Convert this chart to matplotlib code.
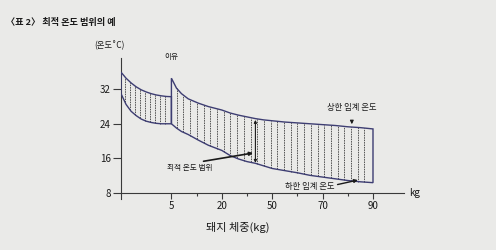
import numpy as np
import matplotlib
matplotlib.use("Agg")
import matplotlib.pyplot as plt
from matplotlib.ticker import FixedLocator, NullFormatter

plt.rcParams['font.family'] = ['Noto Sans CJK KR', 'DejaVu Sans']

# ---- data ----
title = "〈표 2〉 최적 온도 범위의 예"
y_label = "(온도˚C)"
x_label = "돼지 체중(kg)"
x_unit = "kg"
weaning_label = "이유"
upper_label = "상한 임계 온도"
lower_label = "하한 임계 온도"
range_label = "최적 온도 범위"

x_ticks = [5, 20, 50, 70, 90]
x_minor = [12.5, 35, 60, 80]
y_ticks = [8, 16, 24, 32]

# axis break points (kg) and their evenly spaced positions
kg_breaks = [0, 5, 20, 50, 70, 90, 110]
pos_breaks = [0, 1, 2, 3, 4, 5, 6]

# segment 1 : before weaning
seg1_kg = [0, 0.5, 1, 1.5, 2, 2.5, 3, 3.5, 4, 4.5, 5]
seg1_upper = [36.0, 34.6, 33.5, 32.6, 31.9, 31.4, 31.0, 30.7, 30.5, 30.35, 30.3]
seg1_lower = [31.0, 28.5, 26.9, 25.9, 25.1, 24.6, 24.3, 24.1, 24.0, 24.0, 24.0]

# segment 2 : after weaning
seg2_kg = [5, 6.5, 8, 10, 13, 16, 20, 25, 30, 35, 40, 45, 50, 55, 60, 65, 70, 75, 80, 85, 90]
seg2_upper = [34.6, 32.3, 31.0, 29.8, 28.8, 28.0, 27.2, 26.5, 26.0, 25.6, 25.2, 24.9,
              24.7, 24.4, 24.2, 24.0, 23.8, 23.6, 23.3, 23.1, 22.8]
seg2_lower = [24.0, 23.0, 22.2, 21.5, 20.2, 19.0, 17.8, 16.6, 15.8, 15.2, 14.8, 14.2,
              13.6, 13.1, 12.6, 12.0, 11.6, 11.2, 10.8, 10.5, 10.3]

# ---- style ----
bg = '#eaeae8'
curve_c = '#3d3d72'
hatch_c = '#555555'
text_c = '#1a1a1a'
axis_c = '#3a3a3a'


def fwd(kg):
    return np.interp(kg, kg_breaks, pos_breaks)


def inv(p):
    return np.interp(p, pos_breaks, kg_breaks)


fig = plt.figure(figsize=(4.96, 2.5), dpi=100, facecolor=bg)
ax = fig.add_axes([0.244, 0.204, 0.571, 0.564])
ax.set_facecolor(bg)
ax.set_xscale('function', functions=(fwd, inv))
ax.set_xlim(0, inv(5.62))
ax.set_ylim(6.5, 39.3)

for kg, up, lo, step in [(seg1_kg, seg1_upper, seg1_lower, 0.1),
                         (seg2_kg, seg2_upper, seg2_lower, 0.133)]:
    kg = np.asarray(kg, float)
    up = np.asarray(up, float)
    lo = np.asarray(lo, float)
    p0, p1 = fwd(kg[0]), fwd(kg[-1])
    ps = np.arange(p0 + step * 0.8, p1 - step * 0.3, step)
    xs = inv(ps)
    ax.vlines(xs, np.interp(xs, kg, lo), np.interp(xs, kg, up), colors=hatch_c,
              linestyles=(0, (1.6, 0.9)), linewidth=0.7, zorder=2)
    px = np.concatenate([kg, kg[::-1]])
    py = np.concatenate([up, lo[::-1]])
    ax.fill(px, py, facecolor='none', edgecolor=curve_c, linewidth=1.0, zorder=3)

# axes styling
for s in ['top', 'right']:
    ax.spines[s].set_visible(False)
ax.spines['bottom'].set_position(('data', 8))
for s in ['left', 'bottom']:
    ax.spines[s].set_color(axis_c)
    ax.spines[s].set_linewidth(0.8)

ax.xaxis.set_major_locator(FixedLocator(x_ticks))
ax.xaxis.set_minor_locator(FixedLocator(x_minor))
ax.xaxis.set_minor_formatter(NullFormatter())
ax.set_xticklabels([str(t) for t in x_ticks])
ax.yaxis.set_major_locator(FixedLocator(y_ticks))
ax.yaxis.set_minor_locator(FixedLocator([]))
ax.set_yticklabels([str(t) for t in y_ticks])
ax.tick_params(axis='x', which='major', direction='out', length=4, width=0.8,
               pad=2, labelsize=7, colors=axis_c, labelcolor=text_c)
ax.tick_params(axis='x', which='minor', direction='out', length=2.5, width=0.8,
               colors=axis_c)
ax.tick_params(axis='y', which='major', direction='out', length=5.5, width=0.8,
               pad=2, labelsize=7, colors=axis_c, labelcolor=text_c)

# texts
fig.text(0.012, 0.91, title, fontsize=6.6, fontweight='bold', color=text_c,
         ha='left', va='center')
ax.text(-0.04, 1.092, y_label, transform=ax.transAxes, fontsize=6, color=text_c,
        ha='center', va='center')
ax.text(0.413, -0.199, x_label, transform=ax.transAxes, fontsize=8, color=text_c,
        ha='center', va='center')
ax.text(1.017, 8, x_unit, transform=ax.get_yaxis_transform(), fontsize=7,
        color=text_c, ha='left', va='center')
ax.text(5, 39.6, weaning_label, fontsize=5.5, color=text_c, ha='center',
        va='center', clip_on=False)

ax.annotate(upper_label, xy=(81.6, 23.9), xytext=(81.6, 27.7), fontsize=6,
            color=text_c, ha='center', va='center',
            arrowprops=dict(arrowstyle='-|>', color=text_c, lw=0.8,
                            mutation_scale=5, shrinkA=4, shrinkB=0))
ax.annotate(lower_label, xy=(84, 10.9), xytext=(65, 9.3), fontsize=6,
            color=text_c, ha='center', va='center',
            arrowprops=dict(arrowstyle='-|>', color=text_c, lw=1.0,
                            mutation_scale=5, shrinkA=0, shrinkB=0,
                            relpos=(1.0, 0.7)))
ax.annotate(range_label, xy=(38.6, 17.2), xytext=(10.5, 13.7), fontsize=5.5,
            color=text_c, ha='center', va='center',
            arrowprops=dict(arrowstyle='-|>', color=text_c, lw=1.2,
                            mutation_scale=5, shrinkA=0, shrinkB=0,
                            relpos=(0.75, 1.3)))
rng_kg = 40
ax.annotate('', xy=(rng_kg, np.interp(rng_kg, seg2_kg, seg2_upper) - 0.3),
            xytext=(rng_kg, np.interp(rng_kg, seg2_kg, seg2_lower) + 0.1),
            arrowprops=dict(arrowstyle='<|-|>', color=text_c, lw=0.8,
                            mutation_scale=4, shrinkA=0, shrinkB=0), zorder=4)

fig.savefig('out.png', dpi=100, facecolor=bg)
